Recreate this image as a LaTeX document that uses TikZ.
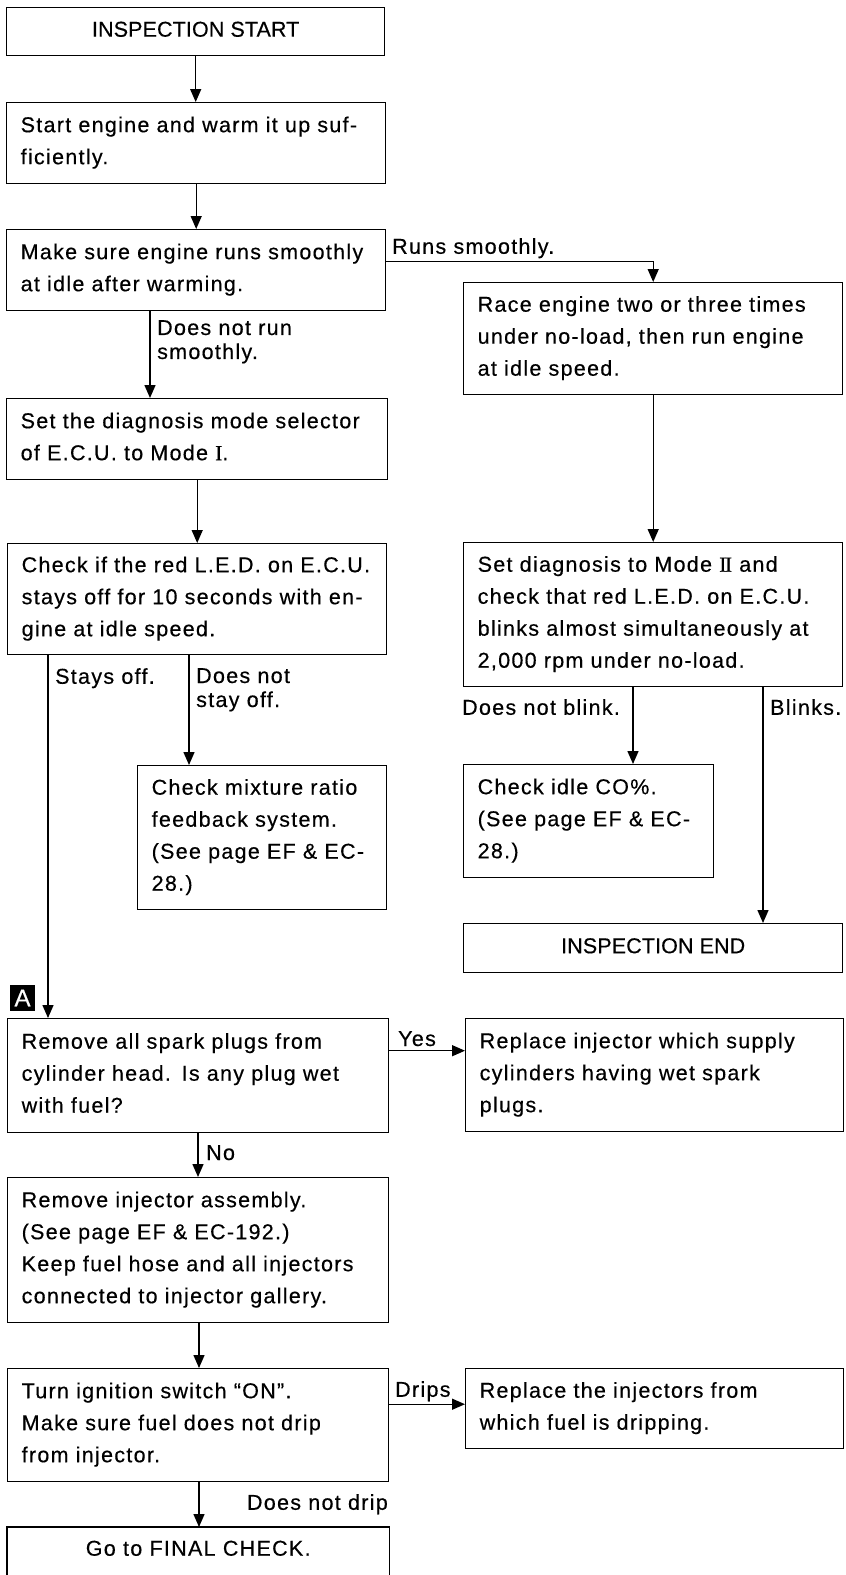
\documentclass[tikz,border=0pt]{standalone}
\usepackage{fontspec}
\setmainfont{Liberation Sans}[LetterSpace=6,FakeBold=0.4]
\newfontfamily\capsfont{Liberation Sans}[LetterSpace=0.5,FakeBold=0.4]
\newfontfamily\romfont{Liberation Serif}[FakeBold=0.6]
\usetikzlibrary{arrows.meta}
\newcommand\mystrut{\rule[-11pt]{0pt}{32pt}}
\newcommand\lblstrut{\rule[-5pt]{0pt}{19pt}}
\newcommand\romI{{\romfont I}}
\newcommand\romII{{\romfont I\kern-1.5pt I}}
\begin{document}
\begin{tikzpicture}[x=1pt,y=-1pt,
  every node/.style={font=\fontsize{21.5}{32}\selectfont},
  box/.style n args={3}{draw,line width=1.4pt,anchor=north west,inner xsep=14pt,inner ysep=0pt,
     minimum width=#1pt,minimum height=#2pt,text width=#3pt,align=left,
     execute at begin node=\mystrut, execute at end node=\mystrut},
  cbox/.style 2 args={draw,line width=1.4pt,anchor=north west,inner sep=0pt,
     minimum width=#1pt,minimum height=#2pt,align=center,
     execute at begin node=\mystrut},
  lbl/.style={inner sep=0pt,anchor=north west,align=left,font=\fontsize{21.5}{24}\selectfont,
     execute at begin node=\lblstrut},
  arr/.style={line width=1.4pt,-{Triangle[length=13pt,width=11pt]}},
  ln/.style={line width=1.4pt}]
\useasboundingbox (0,0) rectangle (846,1575);
\fill[white] (0,0) rectangle (846,1575);

% boxes
\node[cbox={378}{48},font=\capsfont\fontsize{21.5}{32}\selectfont] (b1) at (6,7) {INSPECTION START};
\node[box={379}{81}{351}] (b2) at (6,102) {Start engine and warm it up suf-\\ficiently.};
\node[box={379}{81}{351}] (b3) at (6,229) {Make sure engine runs smoothly\\at idle after warming.};
\node[box={379}{112}{351}] (b4) at (463,282) {Race engine two or three times\\under no-load, then run engine\\at idle speed.};
\node[box={381}{81}{353}] (b5) at (6,398) {Set the diagnosis mode selector\\of E.C.U. to Mode \romI.};
\node[box={379}{144}{351}] (b6) at (463,542) {Set diagnosis to Mode \romII{} and\\check that red L.E.D. on E.C.U.\\blinks almost simultaneously at\\2,000 rpm under no-load.};
\node[box={379}{111}{351}] (b7) at (7,543) {Check if the red L.E.D. on E.C.U.\\stays off for 10 seconds with en-\\gine at idle speed.};
\node[box={249}{144}{221}] (b8) at (137,765) {Check mixture ratio\\feedback system.\\(See page EF \& EC-\\28.)};
\node[box={250}{113}{222}] (b9) at (463,764) {Check idle CO\%.\\(See page EF \& EC-\\28.)};
\node[cbox={379}{49},font=\capsfont\fontsize{21.5}{32}\selectfont] (b10) at (463,923) {INSPECTION END};
\node[box={381}{114}{353}] (b11) at (7,1018) {Remove all spark plugs from\\cylinder head. Is any plug wet\\with fuel?};
\node[box={378}{113}{350}] (b12) at (465,1018) {Replace injector which supply\\cylinders having wet spark\\plugs.};
\node[box={381}{145}{353}] (b13) at (7,1177) {Remove injector assembly.\\(See page EF \& EC-192.)\\Keep fuel hose and all injectors\\connected to injector gallery.};
\node[box={381}{113}{353}] (b14) at (7,1368) {Turn ignition switch ``ON''.\\Make sure fuel does not drip\\from injector.};
\node[box={378}{80}{350}] (b15) at (465,1368) {Replace the injectors from\\which fuel is dripping.};
\node[cbox={381}{46},draw=none] (b16) at (7,1527) {Go to FINAL CHECK.};
\draw[ln] ([yshift=-20pt]b16.south west) |- (b16.north) -| ([yshift=-20pt]b16.south east);

% marker A
\node[fill=black,text=white,inner sep=0pt,minimum width=25pt,minimum height=26pt,
  font=\capsfont\fontsize{24}{24}\selectfont] (mA) at (22.5,998) {A};

% connector coordinates
\coordinate (c35) at ([xshift=144pt]b3.south west);
\coordinate (c34) at ([yshift=9pt]b3.east);
\coordinate (c7a) at ([xshift=41pt]b7.south west);
\coordinate (c78) at ([xshift=182pt]b7.south west);
\coordinate (c69) at ([xshift=170pt]b6.south west);
\coordinate (c6e) at ([xshift=300pt]b6.south west);
\coordinate (cyes) at ([yshift=25pt]b11.east);
\coordinate (cno) at ([xshift=191pt]b11.south west);
\coordinate (c1314) at ([xshift=192pt]b13.south west);
\coordinate (cdr) at ([yshift=21pt]b14.east);
\coordinate (cnd) at ([xshift=192pt]b14.south west);

% connectors
\draw[arr] (b1.south) -- (b1.south |- b2.north);
\draw[arr] (b2.south) -- (b2.south |- b3.north);
\draw[arr] (c34) -| (b4.north);
\draw[arr] (c35) -- (c35 |- b5.north);
\draw[arr] (b4.south) -- (b4.south |- b6.north);
\draw[arr] (b5.south) -- (b5.south |- b7.north);
\draw[arr] (c7a) -- (c7a |- b11.north);
\draw[arr] (c78) -- (c78 |- b8.north);
\draw[arr] (c69) -- (c69 |- b9.north);
\draw[arr] (c6e) -- (c6e |- b10.north);
\draw[arr] (cyes) -- (cyes -| b12.west);
\draw[arr] (cno) -- (cno |- b13.north);
\draw[arr] (c1314) -- (c1314 |- b14.north);
\draw[arr] (cdr) -- (cdr -| b15.west);
\draw[arr] (cnd) -- (cnd |- b16.north);

% labels
\node[lbl] (lruns) at (392,238) {Runs smoothly.};
\node[lbl] (ldnr) at (157,320) {Does not run\\smoothly.};
\node[lbl] (lstays) at (55,668) {Stays off.};
\node[lbl] (ldnso) at (196,668) {Does not\\stay off.};
\node[lbl] (ldnb) at (462,699) {Does not blink.};
\node[lbl] (lblinks) at (770,699) {Blinks.};
\node[lbl] (lyes) at (398,1031) {Yes};
\node[lbl] (lno) at (206,1145) {No};
\node[lbl] (ldrips) at (395,1381) {Drips};
\node[lbl,anchor=north east] (ldnd) at (388,1494) {Does not drip};
\end{tikzpicture}
\end{document}
